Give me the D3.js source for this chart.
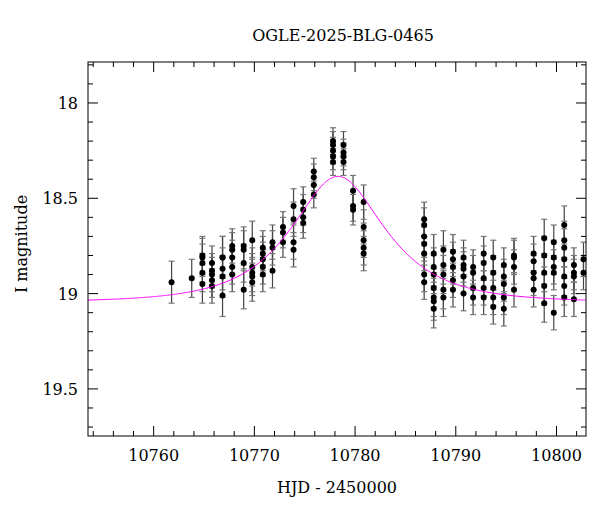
<!DOCTYPE html>
<html><head><meta charset="utf-8">
<script src="https://cdn.jsdelivr.net/npm/d3@7"></script>
<style>body{margin:0;background:#fff}text{font-family:"DejaVu Serif","Liberation Serif",serif}</style>
</head><body><svg id="c" width="600" height="512"></svg>
<script>
const title = "OGLE-2025-BLG-0465";
const xLabel = "HJD - 2450000";
const yLabel = "I magnitude";
const xTicks = [10760,10770,10780,10790,10800];
const yTicks = [18,18.5,19,19.5];
// observation columns: time, magnitudes
const obsTimes = [10761.78,10763.78,10764.84,10765.79,10766.84,10767.80,10768.94,10769.79,10770.84,10771.80,10772.84,10773.89,10774.85,10775.90,10777.81,10778.85,10779.80,10780.85,
 10786.86,10787.81,10788.77,10789.72,10790.77,10791.72,10792.77,10793.72,10794.77,10795.78,10797.73,10798.78,10799.73,10800.77,10801.73,10802.68];
const obsMags = [[18.94],[18.92],[18.80,18.81,18.84,18.89,18.95],[18.84,18.88,18.90,18.93,18.96],[18.81,18.81,18.87,18.91,19.01],
 [18.75,18.77,18.81,18.86,18.90],[18.75,18.77,18.84,18.98],[18.72,18.86,18.89,18.91,18.94],[18.76,18.79,18.82,18.86,18.90],
 [18.73,18.76,18.88],[18.65,18.68,18.73],[18.54,18.61,18.73,18.77],[18.52,18.56,18.60,18.63],[18.36,18.39,18.43,18.48],
 [18.20,18.22,18.25,18.28,18.31],[18.22,18.26,18.28,18.31],[18.46,18.54,18.56],[18.52,18.65,18.72,18.76,18.79],
 [18.61,18.64,18.70,18.74,18.79,18.90,18.94],[18.79,18.86,18.90,18.97,19.02,19.04,19.08],[18.77,18.85,18.90,18.98,19.02],
 [18.78,18.82,18.86,18.93,18.98],[18.81,18.85,18.87,18.91,19.00],[18.86,18.89,18.97,19.02],[18.79,18.84,18.92,18.97,19.02],
 [18.81,18.89,18.97,19.02,19.07],[18.85,18.91,18.95,19.02,19.08],[18.80,18.81,18.86,18.98],[18.79,18.83,18.89,18.92,18.98],
 [18.71,18.80,18.89,18.96,19.05],[18.73,18.81,18.86,18.89,19.10],[18.64,18.72,18.76,18.82,18.91,18.96,19.02],[18.85,18.89,18.91,19.03],[18.82,18.89]];
const obsErrs = [0.11,0.10,0.10,0.09,0.11,0.09,0.10,0.10,0.09,0.09,0.08,0.09,0.08,0.07,0.07,0.07,0.08,0.09,
 0.09,0.10,0.10,0.09,0.09,0.09,0.09,0.09,0.09,0.09,0.09,0.10,0.09,0.10,0.09,0.09];
// point-lens model parameters: t0, u0, tE, baseline mag
const modelParams = [10778.3, 0.62, 7.25, 19.045];

const L=88,R=586,T=62,B=436;
const x=d3.scaleLinear().domain([10753.48,10802.93]).range([L,R]);
const y=d3.scaleLinear().domain([17.785,19.747]).range([T,B]);
const svg=d3.select("#c");
const pts=[];
obsTimes.forEach((t,i)=>obsMags[i].forEach(m=>pts.push({t,m,e:obsErrs[i]})));
const g=svg.append("g");
g.selectAll("line.eb").data(pts).join("line").attr("x1",d=>x(d.t)).attr("x2",d=>x(d.t))
 .attr("y1",d=>y(d.m-d.e)).attr("y2",d=>y(d.m+d.e)).attr("stroke","#444").attr("stroke-width",1.2);
[-1,1].forEach(s=>g.selectAll(null).data(pts).join("line").attr("x1",d=>x(d.t)-3).attr("x2",d=>x(d.t)+3)
 .attr("y1",d=>y(d.m+s*d.e)).attr("y2",d=>y(d.m+s*d.e)).attr("stroke","#777").attr("stroke-width",1.2));
const [t0,u0,tE,mb]=modelParams;
const mt=d3.range(10753.48,10802.94,0.1);
const mag=t=>{const u=Math.hypot(u0,(t-t0)/tE);const A=(u*u+2)/(u*Math.sqrt(u*u+4));return mb-2.5*Math.log10(A);};
svg.append("path").datum(mt).attr("d",d3.line().x(t=>x(t)).y(t=>y(mag(t)))).attr("fill","none").attr("stroke","#ff00ff").attr("stroke-width",1);
g.selectAll("circle").data(pts).join("circle").attr("cx",d=>x(d.t)).attr("cy",d=>y(d.m)).attr("r",3).attr("fill","#000");
svg.append("rect").attr("x",L).attr("y",T).attr("width",R-L).attr("height",B-T).attr("fill","none").attr("stroke","#000");
const tk=svg.append("g").attr("stroke","#000");
d3.range(10754,10803,2).forEach(v=>{const maj=v%10===0,len=maj?10:5,px=x(v);
 tk.append("line").attr("x1",px).attr("x2",px).attr("y1",B).attr("y2",B-len);
 tk.append("line").attr("x1",px).attr("x2",px).attr("y1",T).attr("y2",T+len);});
d3.range(17.8,19.75,0.1).forEach(v=>{const maj=Math.abs(v*2-Math.round(v*2))<1e-6,len=maj?10:5,py=y(v);
 tk.append("line").attr("x1",L).attr("x2",L+len).attr("y1",py).attr("y2",py);
 tk.append("line").attr("x1",R).attr("x2",R-len).attr("y1",py).attr("y2",py);});
svg.selectAll("text.xt").data(xTicks).join("text").attr("x",d=>x(d)).attr("y",B+25).attr("text-anchor","middle").attr("font-size",16).text(d=>d);
svg.selectAll("text.yt").data(yTicks).join("text").attr("x",L-10).attr("y",d=>y(d)+6).attr("text-anchor","end").attr("font-size",16).text(d=>d);
svg.append("text").attr("x",(L+R)/2+6).attr("y",41).attr("text-anchor","middle").attr("font-size",16).text(title);
svg.append("text").attr("x",(L+R)/2).attr("y",493).attr("text-anchor","middle").attr("font-size",16).text(xLabel);
svg.append("text").attr("transform",`translate(27,${(T+B)/2-5}) rotate(-90)`).attr("text-anchor","middle").attr("font-size",16).text(yLabel);
</script></body></html>
